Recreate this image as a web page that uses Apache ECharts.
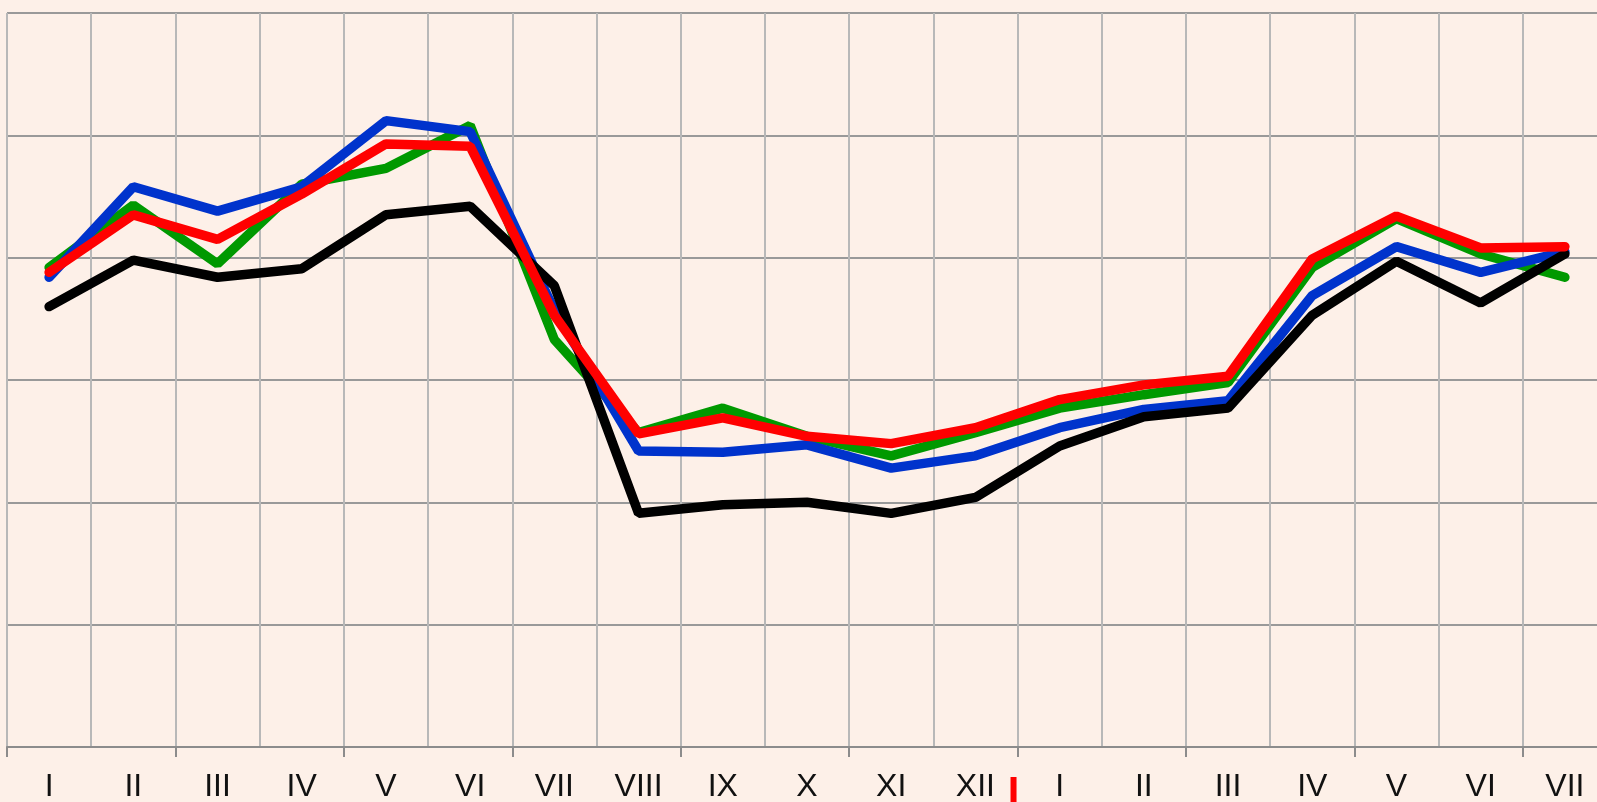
<!DOCTYPE html>
<html>
<head>
    <meta charset="UTF-8">
    <title>Chart</title>
    <script src="https://cdn.jsdelivr.net/npm/echarts@6/dist/echarts.min.js"></script>
    <style>
        html, body { margin: 0; padding: 0; background: #fdf0e8; }
        #chart { width: 1597px; height: 802px; }
    </style>
</head>
<body>
    <div id="chart"></div>
    <script>
        var months = ['I', 'II', 'III', 'IV', 'V', 'VI', 'VII', 'VIII', 'IX', 'X', 'XI', 'XII',
                      'I', 'II', 'III', 'IV', 'V', 'VI', 'VII'];
        var green = [39.2, 44.3, 39.5, 46.0, 47.3, 50.8, 33.3, 25.7, 27.7, 25.4, 23.8, 25.7,
                     27.7, 28.8, 29.8, 39.2, 43.2, 40.3, 38.4];
        var blue  = [38.4, 45.8, 43.8, 45.8, 51.2, 50.3, 35.7, 24.2, 24.1, 24.7, 22.8, 23.8,
                     26.1, 27.6, 28.3, 36.9, 40.9, 38.8, 40.5];
        var black = [36.0, 39.8, 38.4, 39.1, 43.5, 44.2, 37.7, 19.1, 19.8, 20.0, 19.1, 20.4,
                     24.6, 27.0, 27.7, 35.3, 39.7, 36.3, 40.3];
        var red   = [38.8, 43.5, 41.5, 45.2, 49.3, 49.1, 35.3, 25.6, 26.9, 25.4, 24.8, 26.1,
                     28.4, 29.6, 30.3, 39.9, 43.4, 40.8, 40.9];
        var yearBreak = 12; // premier mois de la deuxième année

        var chart = echarts.init(document.getElementById('chart'));

        function line(data, color) {
            return {
                type: 'line',
                data: data,
                showSymbol: false,
                lineStyle: { color: color, width: 9.5, cap: 'round' },
                itemStyle: { color: color }
            };
        }

        chart.setOption({
            animation: false,
            backgroundColor: '#fdf0e8',
            grid: { left: 7, right: -10, top: 13, bottom: 55, outerBoundsMode: 'none', containLabel: false },
            xAxis: {
                type: 'category',
                data: months,
                boundaryGap: true,
                axisLine: { lineStyle: { color: '#8c8c8c', width: 2 } },
                axisTick: { show: true, interval: 1, length: 10, lineStyle: { color: '#8c8c8c', width: 2 } },
                axisLabel: { interval: 0, fontSize: 32, color: '#111', margin: 24, fontFamily: 'Liberation Sans' },
                splitLine: { show: true, interval: 0, lineStyle: { color: '#b8b8b8', width: 2 } }
            },
            yAxis: {
                type: 'value',
                min: 0,
                max: 60,
                interval: 10,
                axisLine: { show: false },
                axisTick: { show: false },
                axisLabel: { show: false },
                splitLine: { lineStyle: { color: '#999', width: 2 } }
            },
            series: [
                line(green, '#009900'),
                line(blue, '#0033cc'),
                line(black, '#000000'),
                line(red, '#ff0000')
            ]
        });

        // trait rouge entre XII et I
        var a = chart.convertToPixel({ xAxisIndex: 0 }, yearBreak - 1);
        var b = chart.convertToPixel({ xAxisIndex: 0 }, yearBreak);
        var y0 = chart.convertToPixel({ yAxisIndex: 0 }, 0);
        chart.setOption({
            graphic: [{
                type: 'rect',
                shape: { x: (a + b) / 2 - 7, y: y0 + 30, width: 6, height: 40 },
                style: { fill: '#ff0000' }
            }]
        });
    </script>
</body>
</html>
